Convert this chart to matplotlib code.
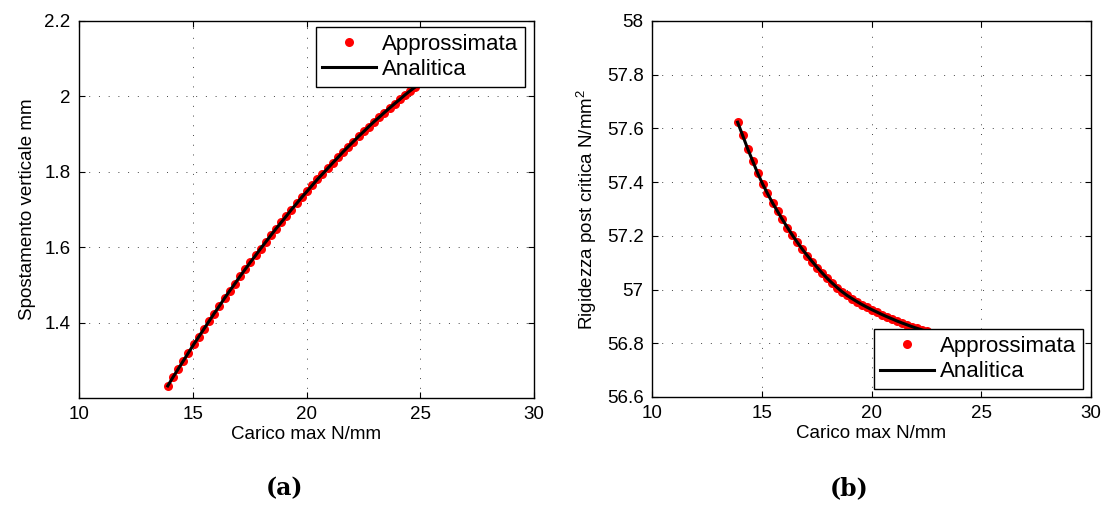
import matplotlib
matplotlib.use("Agg")
import matplotlib.pyplot as plt

plt.rcParams['font.family'] = ['Liberation Sans', 'DejaVu Sans']
plt.rcParams['mathtext.fontset'] = 'custom'
plt.rcParams['mathtext.rm'] = 'Liberation Sans'

# Carico massimo (N/mm) at which the solutions were evaluated
carico = [13.90, 14.13, 14.36, 14.58, 14.81, 15.04, 15.26, 15.49, 15.72, 15.94,
          16.17, 16.40, 16.62, 16.85, 17.08, 17.30, 17.53, 17.76, 17.98, 18.21,
          18.44, 18.66, 18.89, 19.12, 19.34, 19.57, 19.80, 20.02, 20.25, 20.48,
          20.70, 20.93, 21.16, 21.38, 21.61, 21.84, 22.06, 22.29, 22.52, 22.74,
          22.97, 23.20, 23.42, 23.65, 23.88, 24.10, 24.33, 24.56, 24.78, 25.01,
          25.24]

# Spostamento verticale (mm)
spostamento = [1.232, 1.255, 1.277, 1.298, 1.320, 1.342, 1.362, 1.383, 1.404, 1.424,
               1.444, 1.465, 1.484, 1.503, 1.523, 1.541, 1.560, 1.578, 1.596, 1.614,
               1.632, 1.649, 1.666, 1.683, 1.700, 1.716, 1.733, 1.748, 1.764, 1.780,
               1.794, 1.809, 1.824, 1.838, 1.853, 1.867, 1.880, 1.894, 1.907, 1.920,
               1.933, 1.945, 1.957, 1.969, 1.981, 1.992, 2.004, 2.015, 2.025, 2.036,
               2.046]

# Rigidezza post critica (N/mm^2)
rigidezza = [57.623, 57.574, 57.524, 57.480, 57.434, 57.393, 57.358, 57.323, 57.291, 57.261,
             57.231, 57.202, 57.176, 57.150, 57.126, 57.104, 57.082, 57.061, 57.042, 57.024,
             57.007, 56.992, 56.978, 56.966, 56.955, 56.944, 56.934, 56.925, 56.916, 56.907,
             56.899, 56.891, 56.883, 56.876, 56.869, 56.862, 56.856, 56.850, 56.844, 56.838,
             56.832, 56.826, 56.821, 56.816, 56.811, 56.807, 56.803, 56.799, 56.795, 56.791,
             56.787]

x_ticks = [10, 15, 20, 25, 30]
y_ticks_a = [1.4, 1.6, 1.8, 2.0, 2.2]
y_labels_a = ['1.4', '1.6', '1.8', '2', '2.2']
y_ticks_b = [56.6, 56.8, 57.0, 57.2, 57.4, 57.6, 57.8, 58.0]
y_labels_b = ['56.6', '56.8', '57', '57.2', '57.4', '57.6', '57.8', '58']

FS = 13.5
LEG_FS = 16

fig = plt.figure(figsize=(11.09, 5.07), dpi=100)
ax1 = fig.add_axes([79 / 1109, 1 - 398 / 507, 455 / 1109, 377 / 507])
ax2 = fig.add_axes([652 / 1109, 1 - 397 / 507, 439 / 1109, 376 / 507])


def style(ax):
    ax.grid(True, color='#444444', linestyle=(0, (1, 9)), linewidth=0.7)
    ax.tick_params(direction='in', length=4, width=0.8, top=True, right=True,
                   labelsize=FS, pad=6, colors='black')
    for s in ax.spines.values():
        s.set_linewidth(1.0)
        s.set_color('black')
    ax.set_xlim(10, 30)
    ax.set_xticks(x_ticks)
    ax.set_xlabel('Carico max N/mm', fontsize=FS, labelpad=2)


def curves(ax, y):
    ax.plot(carico, y, 'o', color='red', markersize=6.5, markeredgewidth=0,
            label='Approssimata', zorder=2)
    ax.plot(carico, y, '-', color='black', linewidth=2.2, label='Analitica', zorder=3)


def legend(ax, loc, anchor):
    leg = ax.legend(loc=loc, bbox_to_anchor=anchor, fontsize=LEG_FS,
                    frameon=True, fancybox=False, framealpha=1, edgecolor='black',
                    borderpad=0.3, labelspacing=0.2, handlelength=2.4,
                    handletextpad=0.3, borderaxespad=0)
    leg.get_frame().set_linewidth(1.0)
    leg.set_zorder(10)
    return leg


curves(ax1, spostamento)
style(ax1)
ax1.set_ylim(1.2, 2.2)
ax1.set_yticks(y_ticks_a)
ax1.set_yticklabels(y_labels_a)
ax1.set_ylabel('Spostamento verticale mm', fontsize=FS, labelpad=6)
legend(ax1, 'upper right', (0.981, 0.984))

curves(ax2, rigidezza)
style(ax2)
ax2.set_ylim(56.6, 58.0)
ax2.set_yticks(y_ticks_b)
ax2.set_yticklabels(y_labels_b)
ax2.set_ylabel('Rigidezza post critica N/mm$^2$', fontsize=FS, labelpad=6)
legend(ax2, 'lower right', (0.982, 0.021))

fig.text(284 / 1109, 1 - 488 / 507, '(a)', family='DejaVu Serif', weight='bold',
         fontsize=17, ha='center', va='center')
fig.text(849 / 1109, 1 - 488 / 507, '(b)', family='DejaVu Serif', weight='bold',
         fontsize=17, ha='center', va='center')

fig.savefig('out.png', dpi=100)
